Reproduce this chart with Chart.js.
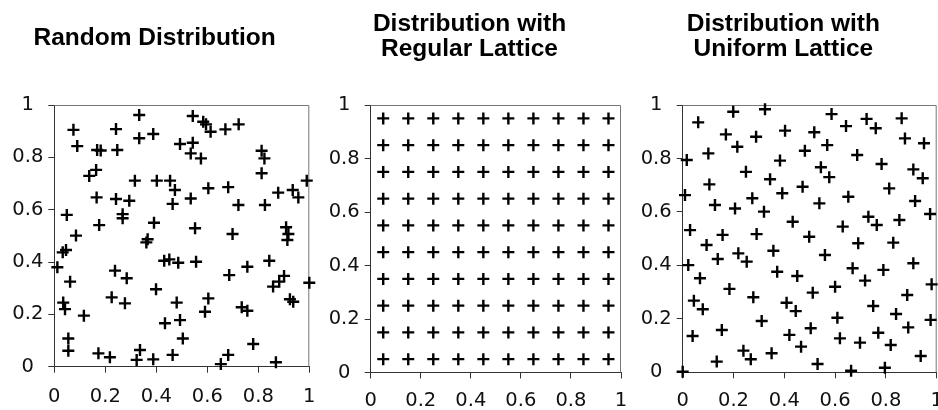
<!DOCTYPE html>
<html>
<head>
<meta charset="utf-8">
<script src="https://cdn.jsdelivr.net/npm/chart.js@4.4.1/dist/chart.umd.min.js"></script>
<style>
  html, body { margin: 0; padding: 0; background: #fff; overflow: hidden; width: 938px; height: 410px; }
  .panel { position: absolute; top: 0; height: 410px; }
  #p1 { left: 0;     width: 341px; }
  #p2 { left: 318px; width: 332px; }
  #p3 { left: 630px; width: 338px; }
</style>
</head>
<body>
<div class="panel" id="p1"><canvas id="randomChart"></canvas></div>
<div class="panel" id="p2"><canvas id="regularChart"></canvas></div>
<div class="panel" id="p3"><canvas id="uniformChart"></canvas></div>
<script>
/* ---------- data ---------- */
const tickValues = [0, 0.2, 0.4, 0.6, 0.8, 1];
const tickLabels = ['0', '0.2', '0.4', '0.6', '0.8', '1'];

const randomX = [0.333, 0.075, 0.090, 0.242, 0.168, 0.182, 0.247, 0.333, 0.388, 0.543,
  0.584, 0.595, 0.613, 0.671, 0.723, 0.493, 0.543, 0.535, 0.575, 0.813,
  0.824, 0.813, 0.137, 0.164, 0.316, 0.402, 0.454, 0.473, 0.464, 0.535,
  0.604, 0.682, 0.722, 0.826, 0.878, 0.935, 0.957, 0.990, 0.166, 0.242,
  0.294, 0.268, 0.268, 0.049, 0.085, 0.176, 0.391, 0.366, 0.361, 0.552,
  0.699, 0.909, 0.918, 0.914, 0.033, 0.046,
  0.012, 0.062, 0.035, 0.042, 0.116, 0.055, 0.055, 0.173, 0.218, 0.336,
  0.323, 0.388, 0.464, 0.504, 0.434, 0.493, 0.480, 0.399, 0.238, 0.284,
  0.225, 0.277, 0.431, 0.451, 0.486, 0.556, 0.686, 0.757, 0.604, 0.591,
  0.735, 0.757, 0.780, 0.682, 0.653, 0.869, 0.843, 0.858, 0.882, 0.901,
  0.924, 0.937, 1.000];
const randomY = [0.962, 0.905, 0.843, 0.908, 0.828, 0.826, 0.828, 0.873, 0.889, 0.958,
  0.936, 0.926, 0.898, 0.907, 0.926, 0.851, 0.856, 0.815, 0.796, 0.825,
  0.796, 0.739, 0.729, 0.752, 0.711, 0.711, 0.711, 0.675, 0.622, 0.643,
  0.682, 0.686, 0.618, 0.618, 0.665, 0.675, 0.647, 0.711, 0.647, 0.641,
  0.634, 0.583, 0.567, 0.580, 0.501, 0.541, 0.550, 0.487, 0.475, 0.529,
  0.507, 0.533, 0.507, 0.484, 0.437, 0.446,
  0.380, 0.325, 0.245, 0.220, 0.195, 0.108, 0.061, 0.051, 0.036, 0.064,
  0.026, 0.028, 0.045, 0.108, 0.166, 0.178, 0.245, 0.296, 0.367, 0.338,
  0.265, 0.242, 0.405, 0.410, 0.397, 0.401, 0.350, 0.382, 0.261, 0.210,
  0.227, 0.214, 0.087, 0.045, 0.010, 0.017, 0.405, 0.306, 0.325, 0.347,
  0.258, 0.248, 0.321];

const latticeSteps = [0.05, 0.15, 0.25, 0.35, 0.45, 0.55, 0.65, 0.75, 0.85, 0.95];

const uniformX = [0.061, 0.199, 0.324, 0.170, 0.215, 0.289, 0.101, 0.016, 0.009, 0.105,
  0.127, 0.206, 0.249, 0.274, 0.320, 0.344, 0.383, 0.392, 0.403, 0.029,
  0.157, 0.291, 0.094, 0.433, 0.472, 0.481, 0.518, 0.569, 0.586, 0.643,
  0.544, 0.577, 0.538, 0.498, 0.652, 0.687, 0.724, 0.760, 0.862, 0.875,
  0.950, 0.783, 0.908, 0.945, 0.813, 0.915, 0.974, 0.630, 0.731, 0.764,
  0.853, 0.691, 0.829,
  0.022, 0.068, 0.138, 0.219, 0.252, 0.357, 0.372, 0.451, 0.560, 0.669,
  0.718, 0.790, 0.908, 0.980, 0.884, 0.750, 0.600, 0.512, 0.409, 0.445,
  0.278, 0.184, 0.044, 0.079, 0.311, 0.609, 0.840, 0.976, 0.888, 0.770,
  0.819, 0.698, 0.619, 0.504, 0.420, 0.466, 0.350, 0.239, 0.268, 0.154,
  0.039, 0.134, 0.531, 0.663, 0.796, 0.937, 0.000];
const uniformY = [0.935, 0.975, 0.984, 0.890, 0.844, 0.881, 0.819, 0.794, 0.663, 0.703,
  0.626, 0.613, 0.750, 0.651, 0.601, 0.722, 0.792, 0.670, 0.904, 0.532,
  0.514, 0.517, 0.476, 0.563, 0.694, 0.829, 0.898, 0.850, 0.966, 0.921,
  0.767, 0.730, 0.632, 0.507, 0.657, 0.813, 0.948, 0.913, 0.950, 0.875,
  0.857, 0.779, 0.759, 0.726, 0.688, 0.641, 0.592, 0.545, 0.582, 0.551,
  0.570, 0.483, 0.485,
  0.401, 0.352, 0.424, 0.445, 0.414, 0.455, 0.376, 0.360, 0.439, 0.389,
  0.343, 0.383, 0.408, 0.329, 0.289, 0.248, 0.320, 0.298, 0.260, 0.229,
  0.281, 0.312, 0.268, 0.236, 0.192, 0.204, 0.218, 0.196, 0.168, 0.148,
  0.102, 0.111, 0.127, 0.165, 0.140, 0.096, 0.071, 0.081, 0.049, 0.158,
  0.136, 0.040, 0.031, 0.006, 0.017, 0.061, 0.002];

/* ---------- helpers ---------- */
const AXIS = '#333';
const FRAME = '#777';
const TICK_FONT = { family: '"DejaVu Sans", sans-serif', size: 19.5 };
const TITLE_FONT = { family: '"Liberation Sans", Arial, sans-serif', size: 24.5, weight: 'bold', lineHeight: '25px' };

function pairs(xs, ys) {
  return xs.map((x, i) => ({ x, y: ys[i] }));
}

// thin grey box closing the plot on top and right
const framePlugin = {
  id: 'frame',
  beforeDatasetsDraw(chart) {
    const { ctx, chartArea: a } = chart;
    ctx.save();
    ctx.strokeStyle = FRAME;
    ctx.lineWidth = 1;
    ctx.beginPath();
    ctx.moveTo(a.left, a.top + 0.5);
    ctx.lineTo(a.right - 0.5, a.top + 0.5);
    ctx.lineTo(a.right - 0.5, a.bottom);
    ctx.stroke();
    ctx.restore();
  }
};

function axis(extra) {
  return Object.assign({
    type: 'linear',
    min: 0,
    max: 1,
    afterBuildTicks: s => { s.ticks = tickValues.map(v => ({ value: v })); },
    ticks: {
      color: '#111',
      font: TICK_FONT,
      callback: (v, i) => tickLabels[i]
    },
    grid: { drawOnChartArea: false, tickLength: 6, color: AXIS, lineWidth: 1 },
    border: { display: true, color: AXIS, width: 1 }
  }, extra);
}

function makePanel(id, title, points, g) {
  const x = axis({ afterFit: s => { s.height = g.xHeight; } });
  x.ticks = Object.assign({}, x.ticks, { padding: g.xPad, maxRotation: 0 });
  const y = axis({ afterFit: s => { s.width = g.yWidth; } });
  y.ticks = Object.assign({}, y.ticks, { padding: 5, crossAlign: 'center' });

  return new Chart(document.getElementById(id), {
    type: 'scatter',
    data: {
      datasets: [{
        data: points,
        pointStyle: 'cross',
        pointRadius: 6,
        pointBorderWidth: 2.4,
        borderColor: '#000',
        backgroundColor: '#000',
        clip: false
      }]
    },
    options: {
      responsive: true,
      maintainAspectRatio: false,
      animation: false,
      events: [],
      layout: { padding: { left: 0, top: 0, bottom: 0, right: g.right } },
      plugins: {
        legend: { display: false },
        tooltip: { enabled: false },
        title: {
          display: true,
          text: title,
          color: '#000',
          font: TITLE_FONT,
          padding: { top: g.titleTop, bottom: g.titleBottom }
        }
      },
      scales: { x, y }
    },
    plugins: [framePlugin]
  });
}

/* ---------- charts ---------- */
makePanel('randomChart', 'Random Distribution', pairs(randomX, randomY),
  { yWidth: 54.3, xHeight: 43.3, xPad: 13, right: 31.7, titleTop: 26, titleBottom: 54 });

makePanel('regularChart', ['Distribution with', 'Regular Lattice'],
  latticeSteps.flatMap(yv => latticeSteps.map(xv => ({ x: xv, y: yv }))),
  { yWidth: 52.7, xHeight: 37.5, xPad: 10.5, right: 29, titleTop: 11.8, titleBottom: 43.2 });

makePanel('uniformChart', ['Distribution with', 'Uniform Lattice'], pairs(uniformX, uniformY),
  { yWidth: 52.7, xHeight: 37.7, xPad: 10.5, right: 31.3, titleTop: 11.8, titleBottom: 43.2 });
</script>
</body>
</html>
